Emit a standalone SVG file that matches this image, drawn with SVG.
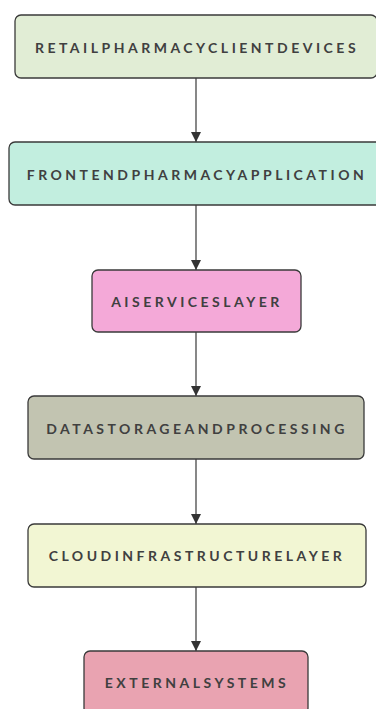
<svg xmlns="http://www.w3.org/2000/svg" width="376" height="709" viewBox="0 0 376 709">
<defs>
<style>
.n rect{stroke:#3a3a3a;stroke-width:1.3}
.n text{font-family:Lato,"Open Sans","DejaVu Sans",sans-serif;font-weight:bold;font-size:14px;letter-spacing:3.5px;fill:#404040;text-anchor:middle;dominant-baseline:central}
.e line{stroke:#555;stroke-width:1.4}
</style>
<marker id="ah" viewBox="0 0 10 10" refX="10" refY="5" markerWidth="10" markerHeight="10" markerUnits="userSpaceOnUse" orient="auto">
<path d="M0,0 L10,5 L0,10 z" fill="#333"/>
</marker>
</defs>
<rect width="376" height="709" fill="#fff"/>
<g id="edges" class="e">
<line x1="196" y1="78" x2="196" y2="142" marker-end="url(#ah)"/>
<line x1="196" y1="205" x2="196" y2="270" marker-end="url(#ah)"/>
<line x1="196" y1="332" x2="196" y2="396" marker-end="url(#ah)"/>
<line x1="196" y1="459" x2="196" y2="524" marker-end="url(#ah)"/>
<line x1="196" y1="587" x2="196" y2="651" marker-end="url(#ah)"/>
</g>
<g id="n1" class="n"><rect x="15" y="15" width="362" height="63" rx="6" fill="#e1edd5"/><text x="197" y="47">RETAILPHARMACYCLIENTDEVICES</text></g>
<g id="n2" class="n"><rect x="9" y="142" width="374" height="63" rx="6" fill="#c2eedf"/><text x="197" y="174">FRONTENDPHARMACYAPPLICATION</text></g>
<g id="n3" class="n"><rect x="92" y="270" width="209" height="62" rx="6" fill="#f4a9d8"/><text x="197" y="301">AISERVICESLAYER</text></g>
<g id="n4" class="n"><rect x="28" y="396" width="336" height="63" rx="6" fill="#c2c4b1"/><text x="197" y="428">DATASTORAGEANDPROCESSING</text></g>
<g id="n5" class="n"><rect x="28" y="524" width="338" height="63" rx="6" fill="#f2f6d3"/><text x="197" y="555">CLOUDINFRASTRUCTURELAYER</text></g>
<g id="n6" class="n"><rect x="84" y="651" width="224" height="63" rx="6" fill="#e9a3b1"/><text x="197" y="682">EXTERNALSYSTEMS</text></g>
</svg>
